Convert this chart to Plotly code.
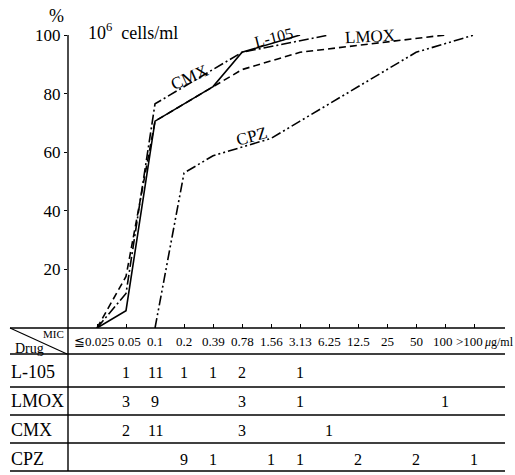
import plotly.graph_objects as go

# MIC columns (µg/ml) shared by the curves and the table
mic_labels = ["≦0.025", "0.05", "0.1", "0.2", "0.39", "0.78", "1.56",
              "3.13", "6.25", "12.5", "25", "50", "100", ">100"]

drugs = ["L-105", "LMOX", "CMX", "CPZ"]

# number of strains at each MIC (None = blank cell)
l105_counts = [None, 1, 11, 1, 1, 2, None, 1, None, None, None, None, None, None]
lmox_counts = [None, 3, 9, None, None, 3, None, 1, None, None, None, None, 1, None]
cmx_counts = [None, 2, 11, None, None, 3, None, None, 1, None, None, None, None, None]
cpz_counts = [None, None, None, 9, 1, None, 1, 1, None, 2, None, 2, None, 1]

# cumulative % of strains inhibited (10^6 cells/ml inoculum)
l105_mic = ["≦0.025", "0.05", "0.1", "0.2", "0.39", "0.78", "3.13"]
l105_pct = [0, 5.9, 70.6, 76.5, 82.4, 94.1, 100]

lmox_mic = ["≦0.025", "0.05", "0.1", "0.78", "3.13", "100"]
lmox_pct = [0, 17.6, 70.6, 88.2, 94.1, 100]

cmx_mic = ["≦0.025", "0.05", "0.1", "0.78", "6.25"]
cmx_pct = [0, 11.8, 76.5, 94.1, 100]

cpz_mic = ["0.1", "0.2", "0.39", "1.56", "3.13", "12.5", "50", ">100"]
cpz_pct = [0, 52.9, 58.8, 64.7, 70.6, 82.4, 94.1, 100]

y_ticks = [20, 40, 60, 80, 100]

FONT = "Liberation Serif"
W, H = 515, 475
ML, MT, MB = 68, 35, 147


def px(p):
    return (p - ML) / (W - ML)


def py(q):
    return (H - MB - q) / (H - MB - MT)


def col(label):
    # position of an MIC column on the x axis
    return mic_labels.index(label)


fig = go.Figure()

series = [
    (l105_mic, l105_pct, "solid"),
    (lmox_mic, lmox_pct, "7px,4px"),
    (cmx_mic, cmx_pct, "10px,3px,2px,3px"),
    (cpz_mic, cpz_pct, "10px,3px,2px,3px,2px,3px"),
]
for name, (xs, ys, dash) in zip(drugs, series):
    fig.add_trace(go.Scatter(
        x=[col(m) for m in xs], y=ys, mode="lines", name=name,
        line=dict(color="black", width=1.6, dash=dash),
        showlegend=False, hoverinfo="skip",
    ))

line_style = dict(color="black", width=1.4)
shapes = []
# vertical rule: y axis continuing down as the table's Drug column border
shapes.append(dict(type="line", xref="paper", yref="paper",
                   x0=px(68), x1=px(68), y0=py(35), y1=py(471), line=line_style))
# horizontal rules of the table (top rule is the x axis)
for q in [328, 354, 387, 415, 443, 471]:
    shapes.append(dict(type="line", xref="paper", yref="paper",
                       x0=px(10), x1=px(505), y0=py(q), y1=py(q), line=line_style))
# diagonal in the Drug/MIC header cell
shapes.append(dict(type="line", xref="paper", yref="paper",
                   x0=px(10), x1=px(67), y0=py(328), y1=py(354),
                   line=dict(color="black", width=1.1)))

ann = []


def text(x, y, s, size, xref="paper", xanchor="center", angle=0, xshift=0):
    ann.append(dict(x=x, y=y, xref=xref, yref="paper", text=s, showarrow=False,
                    xanchor=xanchor, yanchor="middle", textangle=angle, xshift=xshift,
                    font=dict(family=FONT, size=size, color="black")))


# axis titles
text(px(56), py(16), "%", 18)
text(px(86), py(31), "10<sup>6</sup>  cells/ml", 18, xanchor="left")

# curve labels
text(px(189), py(77), "CMX", 17, angle=-24)
text(px(273), py(37), "L-105", 16, angle=-14)
text(px(370), py(36), "LMOX", 17, angle=-3)
text(px(251), py(136), "CPZ", 17, angle=-15)

# table header
text(px(13), py(348), "Drug", 14, xanchor="left")
text(px(66), py(334), "MIC", 11, xanchor="right")
header_nudge = {"≦0.025": -3, "0.05": 3, "100": -2, ">100": -5}
for lab in mic_labels:
    text(col(lab), py(341), lab, 13, xref="x", xshift=header_nudge.get(lab, 0))
text(px(482), py(342), "<i>μ</i>g/ml", 12, xanchor="left")

# table body
row_y = [372, 401, 430, 459]
for name, counts, q in zip(drugs, [l105_counts, lmox_counts, cmx_counts, cpz_counts], row_y):
    text(px(9), py(q), name, 18, xanchor="left")
    for lab, c in zip(mic_labels, counts):
        if c is not None:
            text(col(lab), py(q), str(c), 16, xref="x")

fig.update_layout(
    width=W, height=H,
    margin=dict(l=ML, r=0, t=MT, b=MB),
    paper_bgcolor="white", plot_bgcolor="white",
    shapes=shapes, annotations=ann,
    xaxis=dict(range=[-1.0, 14.41], showgrid=False, zeroline=False,
               showline=False, tickvals=list(range(len(mic_labels))),
               ticks="inside", ticklen=4, tickwidth=1.2,
               tickcolor="black", showticklabels=False),
    yaxis=dict(range=[0, 100], showgrid=False, zeroline=False, showline=False,
               tickvals=y_ticks, ticks="outside", ticklen=3, tickwidth=1.2,
               tickcolor="black",
               tickfont=dict(family=FONT, size=17, color="black")),
)

fig.write_html("out.html")
